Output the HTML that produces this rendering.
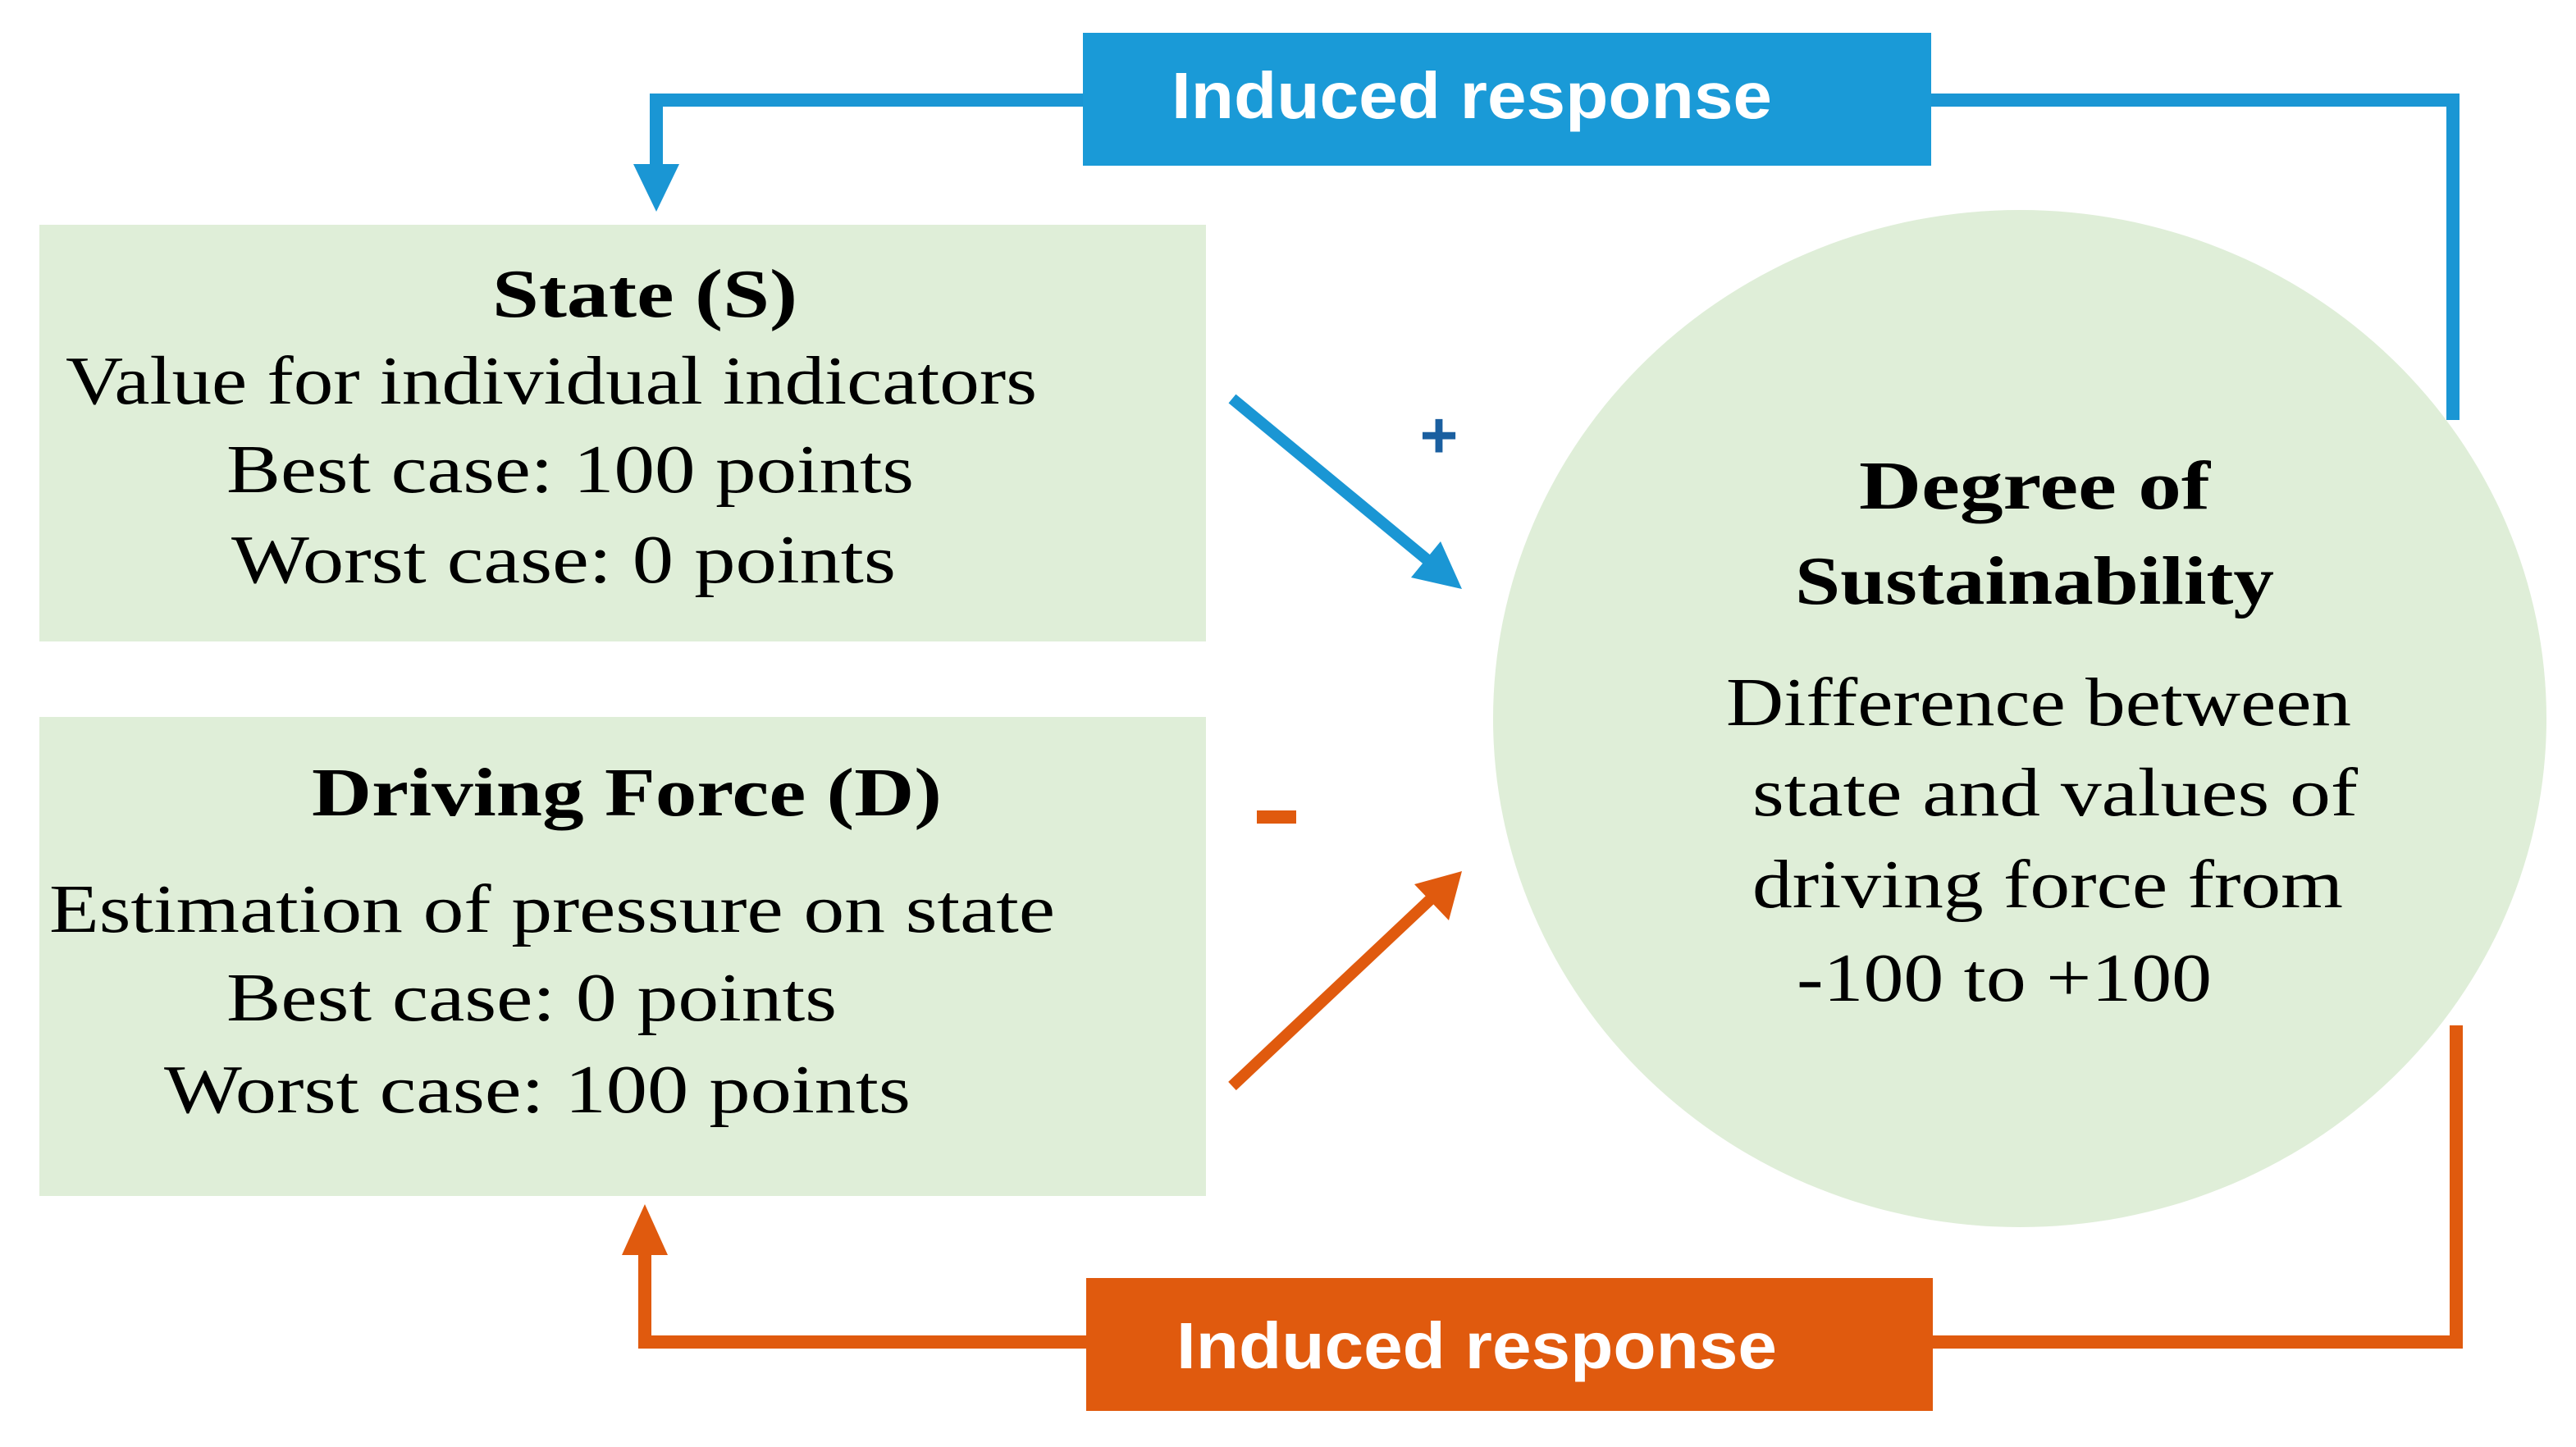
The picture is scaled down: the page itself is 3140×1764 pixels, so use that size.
<!DOCTYPE html>
<html><head><meta charset="utf-8"><style>html,body{margin:0;padding:0;background:#fff}svg{display:block}</style></head>
<body>
<svg width="3140" height="1764" viewBox="0 0 1570 882" xmlns="http://www.w3.org/2000/svg">
<rect x="0" y="0" width="1570" height="882" fill="#fff"/>
<polyline points="660,61 400,61 400,105" fill="none" stroke="#1a96d4" stroke-width="8"/>
<polygon points="386,100 414,100 400,129" fill="#1a96d4"/>
<polyline points="1177,61 1495,61 1495,256" fill="none" stroke="#1a96d4" stroke-width="8"/>
<rect x="660" y="20" width="517" height="81" fill="#1a9ad7"/>
<text x="897" y="72" text-anchor="middle" font-family="Liberation Sans, sans-serif" font-weight="bold" font-size="40" fill="#fff" textLength="366" lengthAdjust="spacingAndGlyphs">Induced response</text>
<polyline points="1497,625 1497,818 1178,818" fill="none" stroke="#e05a0e" stroke-width="8"/>
<polyline points="662,818 393,818 393,760" fill="none" stroke="#e05a0e" stroke-width="8"/>
<polygon points="379,765 407,765 393,734" fill="#e05a0e"/>
<rect x="662" y="779" width="516" height="81" fill="#e05a0e"/>
<text x="900" y="834" text-anchor="middle" font-family="Liberation Sans, sans-serif" font-weight="bold" font-size="40" fill="#fff" textLength="366" lengthAdjust="spacingAndGlyphs">Induced response</text>
<rect x="24" y="137" width="711" height="254" fill="#dfeed8"/>
<rect x="24" y="437" width="711" height="292" fill="#dfeed8"/>
<ellipse cx="1231" cy="438" rx="321" ry="310" fill="#dfeed8"/>
<g font-family="Liberation Serif, serif" font-size="42" fill="#000">
<text x="393" y="193" text-anchor="middle" font-weight="bold" textLength="186" lengthAdjust="spacingAndGlyphs">State (S)</text>
<text x="40" y="246" textLength="592" lengthAdjust="spacingAndGlyphs">Value for individual indicators</text>
<text x="138" y="300" textLength="419" lengthAdjust="spacingAndGlyphs">Best case: 100 points</text>
<text x="141" y="355" textLength="405" lengthAdjust="spacingAndGlyphs">Worst case: 0 points</text>
<text x="382" y="497" text-anchor="middle" font-weight="bold" textLength="384" lengthAdjust="spacingAndGlyphs">Driving Force (D)</text>
<text x="30" y="568" textLength="613" lengthAdjust="spacingAndGlyphs">Estimation of pressure on state</text>
<text x="138" y="622" textLength="372" lengthAdjust="spacingAndGlyphs">Best case: 0 points</text>
<text x="100" y="678" textLength="455" lengthAdjust="spacingAndGlyphs">Worst case: 100 points</text>
<text x="1240" y="310" text-anchor="middle" font-weight="bold" textLength="214" lengthAdjust="spacingAndGlyphs">Degree of</text>
<text x="1240" y="368" text-anchor="middle" font-weight="bold" textLength="292" lengthAdjust="spacingAndGlyphs">Sustainability</text>
<text x="1052" y="442" textLength="381" lengthAdjust="spacingAndGlyphs">Difference between</text>
<text x="1068" y="497" textLength="369" lengthAdjust="spacingAndGlyphs">state and values of</text>
<text x="1068" y="553" textLength="360" lengthAdjust="spacingAndGlyphs">driving force from</text>
<text x="1095" y="610" textLength="253" lengthAdjust="spacingAndGlyphs">-100 to +100</text>
</g>
<line x1="751" y1="243" x2="872" y2="343" stroke="#1a96d4" stroke-width="7"/>
<polygon points="891,359 860,352 878,330" fill="#1a96d4"/>
<text x="877" y="279" text-anchor="middle" font-family="Liberation Sans, sans-serif" font-weight="bold" font-size="40" fill="#1a5fa0">+</text>
<line x1="751" y1="662" x2="872" y2="548" stroke="#e05a0e" stroke-width="7"/>
<polygon points="891,531 883,561 862,539" fill="#e05a0e"/>
<rect x="766" y="494" width="24" height="8" fill="#e05a0e"/>
</svg>
</body></html>
